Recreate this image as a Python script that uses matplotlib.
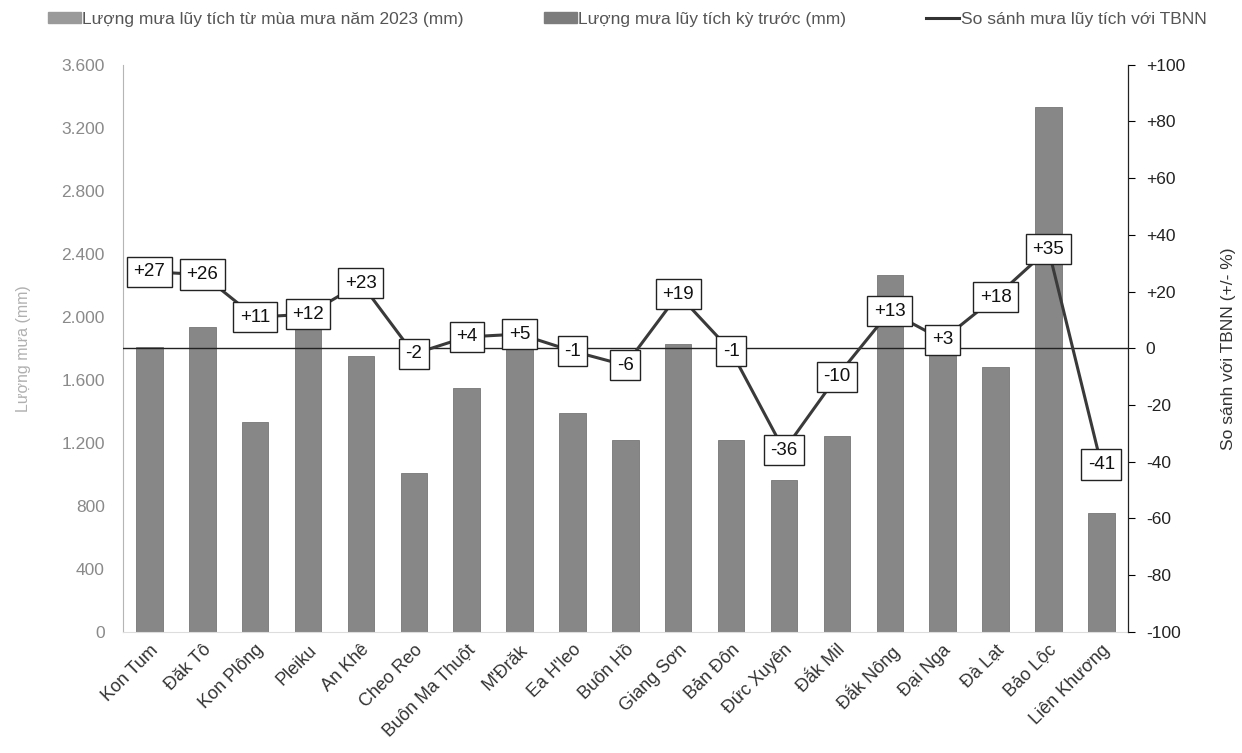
import matplotlib
matplotlib.use("Agg")
import matplotlib.pyplot as plt
from matplotlib.patches import Patch
from matplotlib.lines import Line2D
from matplotlib.ticker import FuncFormatter

plt.rcParams['font.family'] = ['Liberation Sans', 'DejaVu Sans']

stations = ["Kon Tum", "Đăk Tô", "Kon Plông", "Pleiku", "An Khê", "Cheo Reo",
            "Buôn Ma Thuột", "M'Đrăk", "Ea H'leo", "Buôn Hồ", "Giang Sơn",
            "Bản Đôn", "Đức Xuyên", "Đắk Mil", "Đắk Nông", "Đại Nga", "Đà Lạt",
            "Bảo Lộc", "Liên Khương"]
rain_2023 = [1810, 1935, 1331, 1920, 1752, 1008, 1547, 1800, 1392, 1215,
             1829, 1219, 961, 1240, 2262, 1810, 1681, 3331, 757]
pct_vs_avg = [27, 26, 11, 12, 23, -2, 4, 5, -1, -6, 19, -1, -36, -10, 13, 3,
              18, 35, -41]
left_ticks = [0, 400, 800, 1200, 1600, 2000, 2400, 2800, 3200, 3600]
right_ticks = [-100, -80, -60, -40, -20, 0, 20, 40, 60, 80, 100]

fig = plt.figure(figsize=(12.42, 7.53), dpi=100)
ax = fig.add_axes([0.099, 0.161, 0.809, 0.753])
x = list(range(len(stations)))

ax.bar(x, rain_2023, width=0.5, color="#878787", edgecolor="#767676",
       linewidth=0.6, zorder=2)
ax.set_xlim(-0.5, len(stations) - 0.5)
ax.set_ylim(0, 3600)
ax.set_yticks(left_ticks)
ax.yaxis.set_major_formatter(FuncFormatter(lambda v, p: f"{int(v):,}".replace(",", ".")))
ax.tick_params(axis="y", length=0, labelsize=12.5, labelcolor="#8a8a8a", pad=13)
ax.set_xticks(x)
ax.set_xticklabels(stations, rotation=45, ha="right", rotation_mode="anchor",
                   fontsize=13, color="#333333")
ax.tick_params(axis="x", length=0, pad=7)
for s in ("top", "right"):
    ax.spines[s].set_visible(False)
ax.spines["left"].set_color("#b5b5b5")
ax.spines["left"].set_linewidth(0.8)
ax.spines["bottom"].set_color("#dddddd")
ax.spines["bottom"].set_linewidth(0.8)
ax.set_ylabel("Lượng mưa (mm)", fontsize=11.5, color="#b0b0b0", labelpad=22)

ax2 = ax.twinx()
ax2.set_ylim(-100, 100)
ax2.set_yticks(right_ticks)
ax2.yaxis.set_major_formatter(FuncFormatter(lambda v, p: f"+{int(v)}" if v > 0 else f"{int(v)}"))
ax2.tick_params(axis="y", direction="out", length=5, width=0.8, labelsize=12.5,
                labelcolor="#222222", pad=8)
for s in ("top", "left", "bottom"):
    ax2.spines[s].set_visible(False)
ax2.spines["right"].set_color("#222222")
ax2.spines["right"].set_linewidth(0.9)
ax2.axhline(0, color="#222222", linewidth=1.0, zorder=1)
ax2.plot(x, pct_vs_avg, color="#3a3a3a", linewidth=2.2, zorder=3)
for xi, v in zip(x, pct_vs_avg):
    label = f"+{v}" if v > 0 else f"{v}"
    ax2.text(xi, v, label, ha="center", va="center", fontsize=13.5,
             color="#111111", zorder=4,
             bbox=dict(boxstyle="square,pad=0.35", facecolor="white",
                       edgecolor="#222222", linewidth=1.0))
ax2.set_ylabel("So sánh với TBNN (+/- %)", fontsize=12.5, color="#333333", labelpad=26)

handles = [Patch(facecolor="#9a9a9a", edgecolor="#9a9a9a"),
           Patch(facecolor="#7c7c7c", edgecolor="#7c7c7c"),
           Line2D([0], [0], color="#333333", linewidth=2.2)]
labels = ["Lượng mưa lũy tích từ mùa mưa năm 2023 (mm)",
          "Lượng mưa lũy tích kỳ trước (mm)",
          "So sánh mưa lũy tích với TBNN"]
fig.legend(handles, labels, loc="upper center", bbox_to_anchor=(0.505, 1.005),
           ncol=3, frameon=False, fontsize=12.5, handlelength=1.9,
           handleheight=0.6, handletextpad=0.1, columnspacing=4.6,
           labelcolor="#555555")

fig.savefig("out.png", dpi=100, facecolor="white")
